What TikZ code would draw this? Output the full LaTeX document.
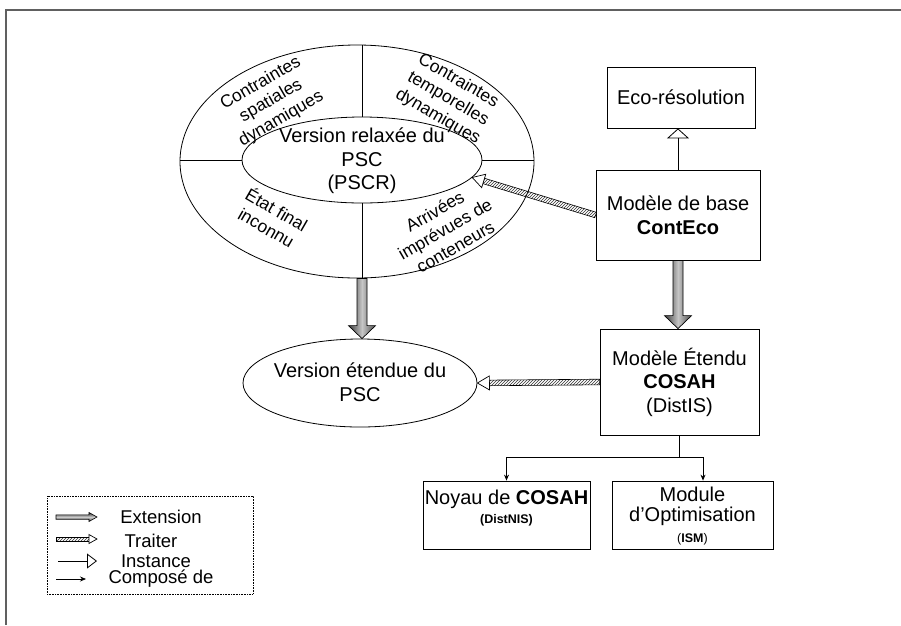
\documentclass[tikz,border=0pt]{standalone}
\usepackage{fontspec}
\setmainfont{Liberation Sans}
\usetikzlibrary{shapes.geometric,arrows.meta,calc,patterns}
\newcommand\arrowpts[6]{%
  \coordinate (#6b) at ($(#2)!#5!(#1)$);
  \coordinate (#6p1) at ($(#1)!#3!90:(#2)$);
  \coordinate (#6p2) at ($(#6b)!#3!90:(#2)$);
  \coordinate (#6p3) at ($(#6b)!#4!90:(#2)$);
  \coordinate (#6t) at (#2);
  \coordinate (#6p5) at ($(#6b)!#4!-90:(#2)$);
  \coordinate (#6p6) at ($(#6b)!#3!-90:(#2)$);
  \coordinate (#6p7) at ($(#1)!#3!-90:(#2)$);
}
% extension (fat shaded) arrow: tail, tip, id, half shaft, half head, head length, shading style
\newcommand\extarrow[7]{%
  \arrowpts{#1}{#2}{#4}{#5}{#6}{#3}
  \shadedraw[#7] (#3p1)--(#3p2)--(#3p3)--(#3t)--(#3p5)--(#3p6)--(#3p7)--cycle;
}
% traiter (hatched shaft, open head) arrow
\newcommand\traiterarrow[6]{%
  \arrowpts{#1}{#2}{#4}{#5}{#6}{#3}
  \filldraw[traitershaft] (#3p1)--(#3p2)--(#3p6)--(#3p7)--cycle;
  \filldraw[fill=white,line width=0.7pt] (#3p3)--(#3t)--(#3p5)--cycle;
}
\begin{document}
\begin{tikzpicture}[x=1pt,y=-1pt,line width=0.8pt,
  font=\fontsize{20}{23.5}\selectfont,
  box/.style={draw,rectangle,inner sep=0pt,align=center},
  ell/.style={draw,ellipse,inner sep=0pt},
  txt/.style={align=center,inner sep=0pt},
  ring/.style={font=\fontsize{17.5}{20.5}\selectfont,align=center,inner sep=0pt},
  legtxt/.style={font=\fontsize{18.5}{20}\selectfont,inner sep=0pt},
  extshade/.style={left color=gray!45!black,right color=gray!60!black,middle color=gray!45,draw=black,line width=0.7pt},
  extshadeh/.style={top color=gray!45!black,bottom color=gray!60!black,middle color=gray!40,draw=black,line width=0.6pt},
  traitershaft/.style={pattern=north east lines,pattern color=black!80,draw=black,line width=0.6pt},
  inst/.style={-{Triangle[open,width=22pt,length=10pt]}},
  comp/.style={-{Stealth[length=6pt,width=5pt]}},
  framecol/.style={draw=gray!75!black,line width=1.6pt}]
\useasboundingbox (0,0) rectangle (901,625);
% frame
\draw[framecol] (6,625) -- (6,10) -- (901,10);

% big ring ellipse
\node[ell,minimum width=354pt,minimum height=233pt] (outer) at (357,161.5) {};
\node[ell,minimum width=240pt,minimum height=86pt] (inner) at (362,160) {};
\node[txt] (innertxt) at (362,161) {Version relaxée du\\PSC\\(PSCR)};
\draw (inner.north) -- (inner.north |- outer.north);
\draw (inner.south) -- (inner.south |- outer.south);
\draw (inner.west) -- (inner.west -| outer.west);
\draw (inner.east) -- (inner.east -| outer.east);
\node[ring,rotate=30] (spat) at (271,101) {Contraintes\\spatiales\\dynamiques};
\node[ring,rotate=-30] (temp) at (448,99) {Contraintes\\temporelles\\dynamiques};
\node[ring,rotate=-30] (etat) at (272,218) {État final\\inconnu};
\node[ring,rotate=30] (arriv) at (445,229) {Arrivées\\imprévues de\\conteneurs};

% extended version ellipse
\node[ell,minimum width=234pt,minimum height=88pt] (ext) at (360,383) {};
\node[txt] (exttxt) at (360,382) {Version étendue du\\PSC};

% boxes
\node[box,minimum width=148pt,minimum height=61pt] (eco) at (681,97.5) {Eco-résolution};
\node[box,minimum width=164pt,minimum height=90pt] (conteco) at (678,215) {Modèle de base\\\textbf{ContEco}};
\node[box,minimum width=159pt,minimum height=106pt] (cosah) at (679.5,382) {Modèle Étendu\\\textbf{COSAH}\\(DistIS)};
\node[box,minimum width=167pt,minimum height=68pt] (noyau) at (506.5,515) {};
\node[txt,font=\fontsize{20}{19}\selectfont] (noyautxt) at (506.5,508) {Noyau de \textbf{COSAH}\\{\fontsize{12.5}{14}\selectfont\textbf{(DistNIS)}}};
\node[box,minimum width=161pt,minimum height=68pt] (module) at (692.5,515) {};
\node[txt,font=\fontsize{20}{20.5}\selectfont] (moduletxt) at (692.5,516) {Module\\d’Optimisation\\{\fontsize{12.5}{14}\selectfont(\textbf{ISM})}};

% connectors
\draw[inst] (conteco.north) -- (conteco.north |- eco.south);
\extarrow{inner.south |- outer.south}{inner.south |- ext.north}{ea}{5pt}{13.5pt}{13pt}{extshade}
\extarrow{conteco.south}{conteco.south |- cosah.north}{eb}{5pt}{13.5pt}{13pt}{extshade}
\traiterarrow{conteco.west}{inner.-9}{ta}{2.8pt}{7pt}{12pt}
\traiterarrow{cosah.west}{ext.east}{tb}{2.8pt}{7pt}{12pt}
\coordinate (split) at (679.5,457);
\draw (cosah.south) -- (split);
\draw[comp] (split) -| (noyau.north);
\draw[comp] (split) -| ([xshift=10.5pt]module.north);

% legend
\node[draw,densely dotted,line width=0.6pt,minimum width=206pt,minimum height=98pt,inner sep=0pt] (legend) at (150,545) {};
\coordinate (l1a) at (56,517); \coordinate (l1b) at (97,517);
\coordinate (l2a) at (56,539); \coordinate (l2b) at (97,539);
\coordinate (l3a) at (58,561); \coordinate (l3b) at (97,561);
\coordinate (l4a) at (56,579); \coordinate (l4b) at (86,579);
\extarrow{l1a}{l1b}{la}{2.2pt}{4.5pt}{8pt}{extshadeh}
\traiterarrow{l2a}{l2b}{lb}{2pt}{4.5pt}{8pt}
\draw[-{Triangle[open,width=15pt,length=10pt]}] (l3a) -- (l3b);
\draw[comp,line width=0.7pt] (l4a) -- (l4b);
\node[legtxt] (lt1) at (161,517) {Extension};
\node[legtxt] (lt2) at (151,541) {Traiter};
\node[legtxt] (lt3) at (156,561) {Instance};
\node[legtxt] (lt4) at (161,579) {Composé de};
\end{tikzpicture}
\end{document}
